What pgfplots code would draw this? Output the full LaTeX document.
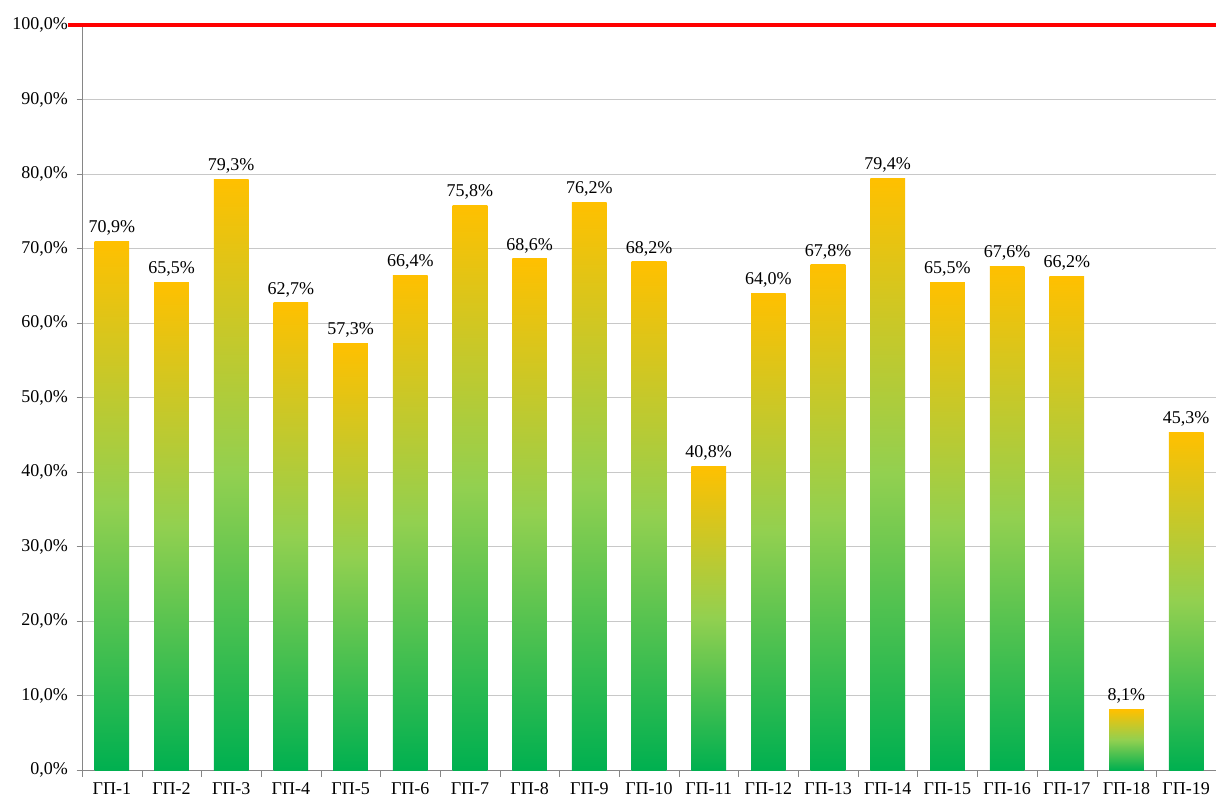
\documentclass[border=0pt]{standalone}
\usepackage{pgfplots}
\pgfplotsset{compat=1.18}
\usepackage{fontspec}
\setmainfont{Liberation Serif}
\definecolor{gA}{HTML}{00B050}
\definecolor{gB}{HTML}{92D050}
\definecolor{gC}{HTML}{FFC000}
\definecolor{axgray}{HTML}{868686}
\definecolor{gridgray}{HTML}{C8C8C8}
\pgfdeclareverticalshading{barshade}{100bp}{color(0bp)=(gA); color(25bp)=(gA); color(50bp)=(gB); color(75bp)=(gC); color(100bp)=(gC)}
\pgfplotsset{
  mybar/.style={ybar, bar width=26pt, bar shift=0pt, draw=none, shading=barshade, forget plot,
    nodes near coords={\pgfmathprintnumber[fixed,fixed zerofill,precision=1,use comma]{\pgfplotspointmeta}\%},
    every node near coord/.append style={font=\fontsize{13.5}{15}\selectfont, text=black, yshift=1pt}}
}
\begin{document}
\begin{tikzpicture}
\begin{axis}[
  scale only axis,
  width=850.5pt, height=558.75pt,
  xmin=-0.5, xmax=18.5,
  ymin=0, ymax=100,
  clip=false,
  axis lines*=left,
  axis line style={axgray},
  ytick={0,10,...,100},
  ymajorgrids,
  grid style={gridgray, line width=0.6pt},
  xtick={0,...,18},
  xticklabels={ГП-1,ГП-2,ГП-3,ГП-4,ГП-5,ГП-6,ГП-7,ГП-8,ГП-9,ГП-10,ГП-11,ГП-12,ГП-13,ГП-14,ГП-15,ГП-16,ГП-17,ГП-18,ГП-19},
  minor xtick={-0.5,0.5,...,18.5},
  x tick style={draw=none},
  minor x tick style={axgray, draw=axgray},
  minor tick length=5pt,
  y tick style={axgray},
  major tick length=4pt,
  tick align=outside,
  tick pos=left,
  /pgf/number format/assume math mode=true,
  yticklabel={\pgfmathprintnumber[fixed,fixed zerofill,precision=1,use comma]{\tick}\%},
  ticklabel style={font=\fontsize{13.5}{15}\selectfont, text=black},
  yticklabel style={xshift=-3pt},
  xticklabel style={yshift=-2pt},
]
\addplot[mybar] coordinates {(0,70.9)};
\addplot[mybar] coordinates {(1,65.5)};
\addplot[mybar] coordinates {(2,79.3)};
\addplot[mybar] coordinates {(3,62.7)};
\addplot[mybar] coordinates {(4,57.3)};
\addplot[mybar] coordinates {(5,66.4)};
\addplot[mybar] coordinates {(6,75.8)};
\addplot[mybar] coordinates {(7,68.6)};
\addplot[mybar] coordinates {(8,76.2)};
\addplot[mybar] coordinates {(9,68.2)};
\addplot[mybar] coordinates {(10,40.8)};
\addplot[mybar] coordinates {(11,64.0)};
\addplot[mybar] coordinates {(12,67.8)};
\addplot[mybar] coordinates {(13,79.4)};
\addplot[mybar] coordinates {(14,65.5)};
\addplot[mybar] coordinates {(15,67.6)};
\addplot[mybar] coordinates {(16,66.2)};
\addplot[mybar] coordinates {(17,8.1)};
\addplot[mybar] coordinates {(18,45.3)};
\addplot[red, line width=3pt, no marks] coordinates {(-0.73,100) (18.5,100)};
\end{axis}
\pgfresetboundingbox
\path ([shift={(-61.5pt,-23pt)}]current axis.south west) rectangle ([yshift=18.75pt]current axis.north east);
\end{tikzpicture}
\end{document}
